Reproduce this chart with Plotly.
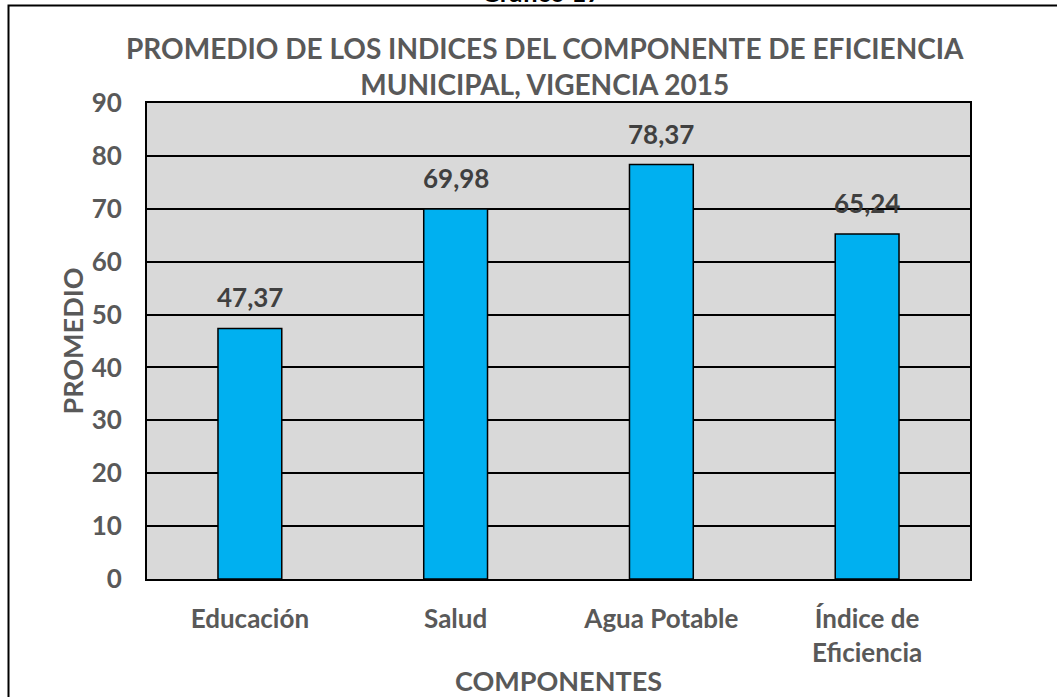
import plotly.graph_objects as go

categories = ["Educación", "Salud", "Agua Potable", "Índice de<br>Eficiencia"]
values = [47.37, 69.98, 78.37, 65.24]
labels = [f"{v:.2f}".replace(".", ",") for v in values]

W, H = 1057, 697
L, R, T, B = 147, 970, 103, 579
pw, ph = R - L, B - T

def px(x):
    return (x - L) / pw

def py(y):
    return (B - y) / ph

FONT = "Lato"
GRAY = "#595959"

fig = go.Figure(go.Bar(
    x=categories, y=values,
    marker=dict(color="#00B0F0", line=dict(color="black", width=1.5)),
    width=0.31,
))

for c, v, t in zip(categories, values, labels):
    fig.add_annotation(
        x=c, y=v, text=t, showarrow=False, yanchor="middle", yshift=31,
        font=dict(family=FONT, size=26, color="#404040", weight="bold"),
    )

fig.update_layout(
    width=W, height=H,
    margin=dict(l=L, r=W - R, t=T, b=H - B, autoexpand=False),
    paper_bgcolor="white", plot_bgcolor="#D9D9D9",
    showlegend=False,
    font=dict(family=FONT, color=GRAY),
)
fig.update_yaxes(
    range=[0, 90], dtick=10, showgrid=True, gridcolor="black", gridwidth=1.5,
    showline=True, linecolor="black", linewidth=2, mirror=True,
    tickfont=dict(family=FONT, size=26, color=GRAY, weight="bold"),
    ticks="", ticklabelstandoff=18, zeroline=False, automargin=False,
    title=dict(text="PROMEDIO", font=dict(family=FONT, size=27, color=GRAY, weight="bold"), standoff=0),
)
fig.update_xaxes(
    showline=True, linecolor="black", linewidth=2, mirror=True,
    tickfont=dict(family=FONT, size=26, color=GRAY, weight="bold"),
    ticks="", ticklabelstandoff=16, automargin=False,
    title=dict(text="COMPONENTES", font=dict(family=FONT, size=27, color=GRAY, weight="bold"), standoff=7),
)

fig.add_annotation(
    text="PROMEDIO DE LOS INDICES DEL COMPONENTE DE EFICIENCIA<br>MUNICIPAL, VIGENCIA 2015",
    xref="paper", yref="paper", x=px(545), y=py(66), xanchor="center", yanchor="middle",
    showarrow=False, font=dict(family=FONT, size=28, color=GRAY, weight="bold"),
)
fig.add_annotation(
    text="Gráfico 17", xref="paper", yref="paper", x=px(541), y=py(10),
    xanchor="center", yanchor="bottom", showarrow=False,
    font=dict(family=FONT, size=26, color="black", weight="bold"),
)
fig.add_shape(
    type="rect", xref="paper", yref="paper",
    x0=px(8.5), x1=px(1070), y0=py(710), y1=py(5.5),
    line=dict(color="black", width=2), fillcolor="rgba(0,0,0,0)", layer="above",
)

fig.write_html("out.html", config={"displayModeBar": False},
               post_script="document.body.style.margin='0';")
